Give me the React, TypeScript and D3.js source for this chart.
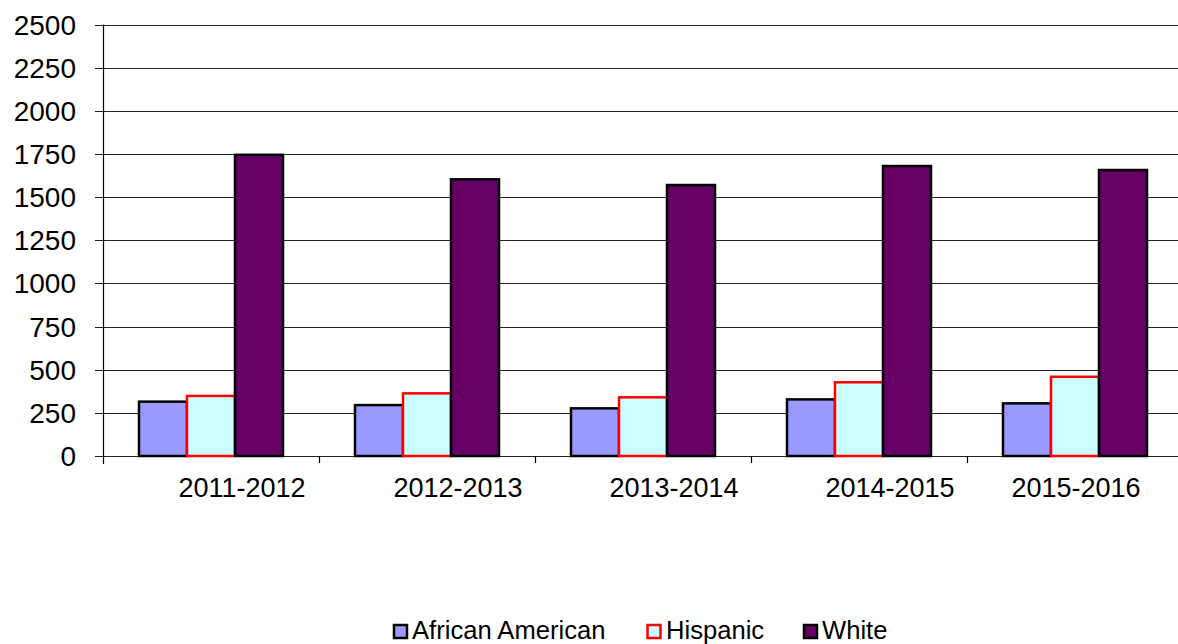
import React from "react";
import * as d3 from "d3";

const categories = ["2011-2012", "2012-2013", "2013-2014", "2014-2015", "2015-2016"];
const seriesNames = ["African American", "Hispanic", "White"];
const africanAmerican = [315, 295, 276, 328, 305];
const hispanic = [348, 363, 340, 427, 459];
const white = [1745, 1603, 1570, 1680, 1657];
const yTicks = [0, 250, 500, 750, 1000, 1250, 1500, 1750, 2000, 2250, 2500];

const fills = ["#9999FF", "#CCFFFF", "#660066"];
const strokes = ["#000000", "#FF0000", "#000000"];

export default function App() {
  const W = 1178, H = 644;
  const left = 103, right = 1183, top = 24.5, bottom = 456;
  const font = "Arial, 'Liberation Sans', sans-serif";
  const values = [africanAmerican, hispanic, white];
  const y = d3.scaleLinear().domain([0, 2500]).range([bottom, top]);
  const x = d3.scaleBand<string>().domain(categories).range([left, right]).padding(0);
  const bw = x.bandwidth();
  const inner = d3.scaleBand<string>().domain(seriesNames).range([bw / 6, bw * 5 / 6]).padding(0);
  const legendItems = [
    { x: 394, tx: 412 },
    { x: 647.5, tx: 666 },
    { x: 804, tx: 822 },
  ];
  return (
    <svg width={W} height={H} style={{ position: "absolute", left: 0, top: 0, background: "#fff" }}>
      <rect x={0} y={0} width={W} height={H} fill="#fff" />
      {yTicks.map((t) => (
        <g key={t}>
          <line x1={95} x2={W} y1={Math.round(y(t)) + 0.5} y2={Math.round(y(t)) + 0.5} stroke="#222" strokeWidth={1.2} />
          <text x={76} y={y(t)} dy="0.36em" textAnchor="end" fontFamily={font} fontSize={28} fill="#000">{t}</text>
        </g>
      ))}
      <line x1={left + 0.5} x2={left + 0.5} y1={top} y2={bottom + 8} stroke="#000" strokeWidth={1.2} />
      {categories.map((c) => (
        <line key={"t" + c} x1={x(c)! + bw + 0.5} x2={x(c)! + bw + 0.5} y1={bottom} y2={bottom + 7} stroke="#000" strokeWidth={1.2} />
      ))}
      {categories.map((c, i) => (
        <g key={c}>
          {seriesNames.map((s, j) => {
            const v = values[j][i];
            const bx = x(c)! + inner(s)!;
            return (
              <rect key={s} x={bx} y={y(v)} width={inner.bandwidth()} height={bottom - y(v)}
                fill={fills[j]} stroke={strokes[j]} strokeWidth={2.5} />
            );
          })}
        </g>
      ))}
      {categories.map((c) => {
        const center = x(c)! + bw / 2 + 31;
        const cx = Math.min(center, 1140 - 64);
        return (
          <text key={"l" + c} x={cx} y={497} textAnchor="middle" fontFamily={font} fontSize={27} fill="#000">{c}</text>
        );
      })}
      {seriesNames.map((s, j) => (
        <g key={"lg" + s}>
          <rect x={legendItems[j].x} y={625} width={13} height={13} fill={fills[j]} stroke={strokes[j]} strokeWidth={2.5} />
          <text x={legendItems[j].tx} y={639} fontFamily={font} fontSize={25.6} fill="#000">{s}</text>
        </g>
      ))}
    </svg>
  );
}
